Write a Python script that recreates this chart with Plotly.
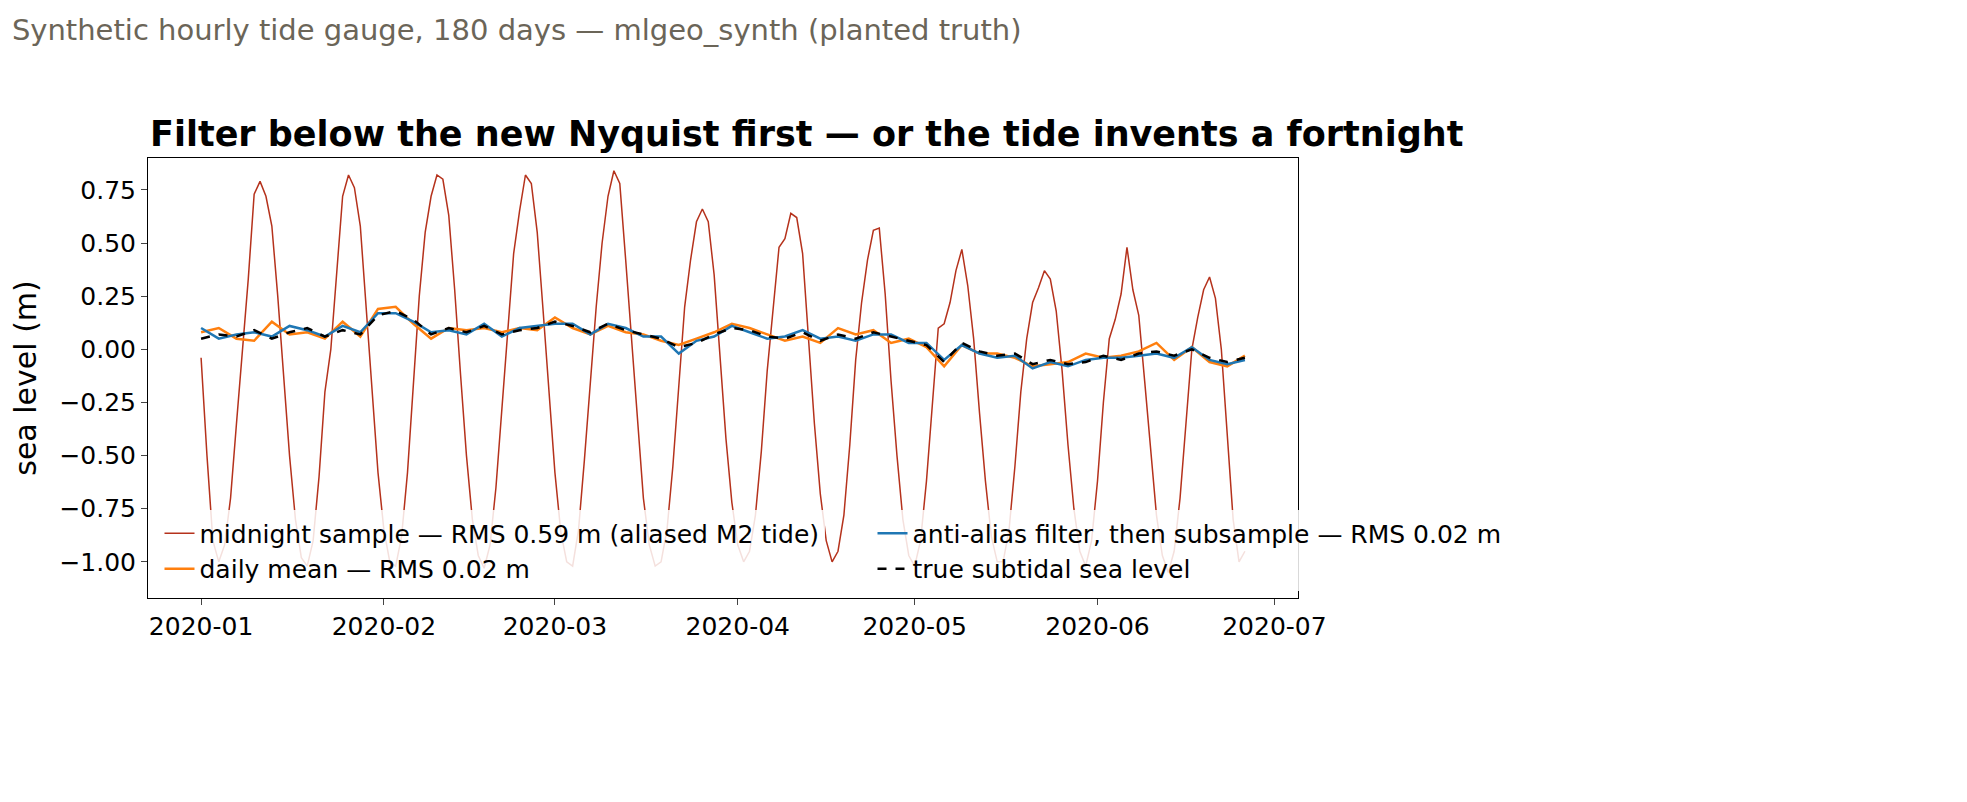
import pandas as pd
import plotly.graph_objs as go

midnight = [-0.04, -0.50, -0.90, -1.00, -0.92, -0.70, -0.35, 0.00, 0.33, 0.73,
            0.79, 0.72, 0.58, 0.25, -0.15, -0.50, -0.80, -0.98, -1.02, -0.90,
            -0.60, -0.20, 0.00, 0.38, 0.72, 0.82, 0.76, 0.58, 0.20, -0.22,
            -0.58, -0.85, -1.00, -1.02, -0.88, -0.58, -0.15, 0.25, 0.55, 0.72,
            0.82, 0.80, 0.63, 0.28, -0.12, -0.50, -0.80, -0.97, -1.03, -0.92,
            -0.65, -0.28, 0.12, 0.45, 0.65, 0.82, 0.78, 0.55, 0.18, -0.22,
            -0.58, -0.86, -1.00, -1.02, -0.85, -0.52, -0.15, 0.20, 0.50, 0.72,
            0.84, 0.78, 0.42, 0.05, -0.35, -0.70, -0.92, -1.02, -1.00, -0.85,
            -0.55, -0.15, 0.20, 0.42, 0.60, 0.66, 0.60, 0.35, -0.05, -0.42,
            -0.72, -0.92, -1.00, -0.95, -0.78, -0.48, -0.10, 0.20, 0.48, 0.52,
            0.64, 0.62, 0.45, 0.05, -0.35, -0.68, -0.90, -1.00, -0.95, -0.78,
            -0.45, -0.05, 0.22, 0.42, 0.56, 0.57, 0.26, -0.15, -0.50, -0.80,
            -0.97, -1.02, -0.90, -0.62, -0.25, 0.10, 0.12, 0.22, 0.37, 0.47,
            0.30, 0.05, -0.30, -0.62, -0.88, -1.00, -1.00, -0.85, -0.55, -0.20,
            0.05, 0.22, 0.29, 0.37, 0.33, 0.18, -0.10, -0.45, -0.75, -0.95,
            -1.02, -0.90, -0.62, -0.25, 0.05, 0.14, 0.26, 0.48, 0.28, 0.16,
            -0.15, -0.48, -0.78, -0.97, -1.05, -0.95, -0.70, -0.35, 0.00, 0.15,
            0.28, 0.34, 0.24, 0.00, -0.42, -0.80, -1.00, -0.95]

true_level = [0.05, 0.07, 0.06, 0.09, 0.05, 0.08, 0.10, 0.06, 0.09, 0.07,
              0.16, 0.18, 0.14, 0.07, 0.10, 0.08, 0.11, 0.07, 0.09, 0.10,
              0.13, 0.11, 0.08, 0.12, 0.09, 0.07, 0.05, 0.01, 0.03, 0.07,
              0.10, 0.09, 0.06, 0.05, 0.08, 0.04, 0.07, 0.05, 0.08, 0.06,
              0.04, 0.02, -0.06, 0.03, -0.01, -0.03, -0.02, -0.07, -0.05, -0.07,
              -0.06, -0.03, -0.05, -0.02, -0.01, -0.03, 0.00, -0.04, -0.06, -0.04]
daily_mean = [0.08, 0.10, 0.05, 0.04, 0.13, 0.07, 0.08, 0.05, 0.13, 0.06,
              0.19, 0.20, 0.12, 0.05, 0.10, 0.09, 0.10, 0.08, 0.10, 0.09,
              0.15, 0.10, 0.07, 0.11, 0.08, 0.07, 0.04, 0.02, 0.05, 0.08,
              0.12, 0.10, 0.07, 0.04, 0.06, 0.03, 0.10, 0.07, 0.09, 0.03,
              0.05, 0.01, -0.08, 0.02, -0.02, -0.02, -0.04, -0.08, -0.07, -0.06,
              -0.02, -0.04, -0.03, -0.01, 0.03, -0.05, 0.01, -0.06, -0.08, -0.03]
filtered = [0.10, 0.05, 0.07, 0.08, 0.06, 0.11, 0.09, 0.06, 0.11, 0.08,
            0.17, 0.17, 0.13, 0.08, 0.09, 0.07, 0.12, 0.06, 0.10, 0.11,
            0.12, 0.12, 0.07, 0.12, 0.10, 0.06, 0.06, -0.02, 0.04, 0.06,
            0.11, 0.08, 0.05, 0.06, 0.09, 0.05, 0.06, 0.04, 0.07, 0.07,
            0.03, 0.03, -0.05, 0.02, -0.02, -0.04, -0.03, -0.09, -0.06, -0.08,
            -0.05, -0.04, -0.04, -0.03, -0.02, -0.04, 0.01, -0.05, -0.07, -0.05]

days = pd.date_range('2020-01-01', periods=len(midnight), freq='D')
days3 = pd.date_range('2020-01-01', periods=len(true_level), freq='3D')


def create_graph():
    fig = go.Figure()
    fig.add_trace(go.Scatter(x=days, y=midnight, mode='lines', line=dict(color='#b5321c', width=1.5),
                             name='midnight sample — RMS 0.59 m (aliased M2 tide)', legend='legend'))
    fig.add_trace(go.Scatter(x=days3, y=daily_mean, mode='lines', line=dict(color='#ff7f0e', width=2.5),
                             name='daily mean — RMS 0.02 m', legend='legend'))
    fig.add_trace(go.Scatter(x=days3, y=filtered, mode='lines', line=dict(color='#1f77b4', width=2.5),
                             name='anti-alias filter, then subsample — RMS 0.02 m', legend='legend2'))
    fig.add_trace(go.Scatter(x=days3, y=true_level, mode='lines', line=dict(color='black', width=2.5, dash='dash'),
                             name='true subtidal sea level', legend='legend2'))

    legend_style = dict(yanchor='bottom', xanchor='left', y=0.015, bgcolor='rgba(255,255,255,0.85)',
                        borderwidth=0, font=dict(size=25), tracegroupgap=0)
    fig.update_layout(
        width=1967, height=802,
        title=dict(text='Synthetic hourly tide gauge, 180 days — mlgeo_synth (planted truth)',
                   x=0.002, y=0.985, font=dict(size=29, color='#6b6558')),
        font=dict(family='DejaVu Sans', size=25, color='black'),
        paper_bgcolor='white', plot_bgcolor='white',
        margin=dict(l=140, r=677, t=150, b=212),
        legend=dict(x=0.01, **legend_style),
        legend2=dict(x=0.63, **legend_style),
        annotations=[dict(text='<b>Filter below the new Nyquist first — or the tide invents a fortnight</b>',
                          xref='paper', yref='paper', x=0, y=1.005, xanchor='left', yanchor='bottom',
                          showarrow=False, font=dict(size=35))]
    )
    fig.update_xaxes(range=['2019-12-23', '2020-07-05'], dtick='M1', tickformat='%Y-%m',
                     showgrid=False, zeroline=False, showline=True, linecolor='black', mirror=True,
                     ticks='outside', ticklen=6)
    fig.update_yaxes(title='sea level (m)', range=[-1.17, 0.90], tickvals=[-1.0, -0.75, -0.5, -0.25, 0, 0.25, 0.5, 0.75],
                     tickformat='.2f', showgrid=False, zeroline=False, showline=True, linecolor='black',
                     mirror=True, ticks='outside', ticklen=6)
    return fig


fig = create_graph()
fig.write_html('out.html')
